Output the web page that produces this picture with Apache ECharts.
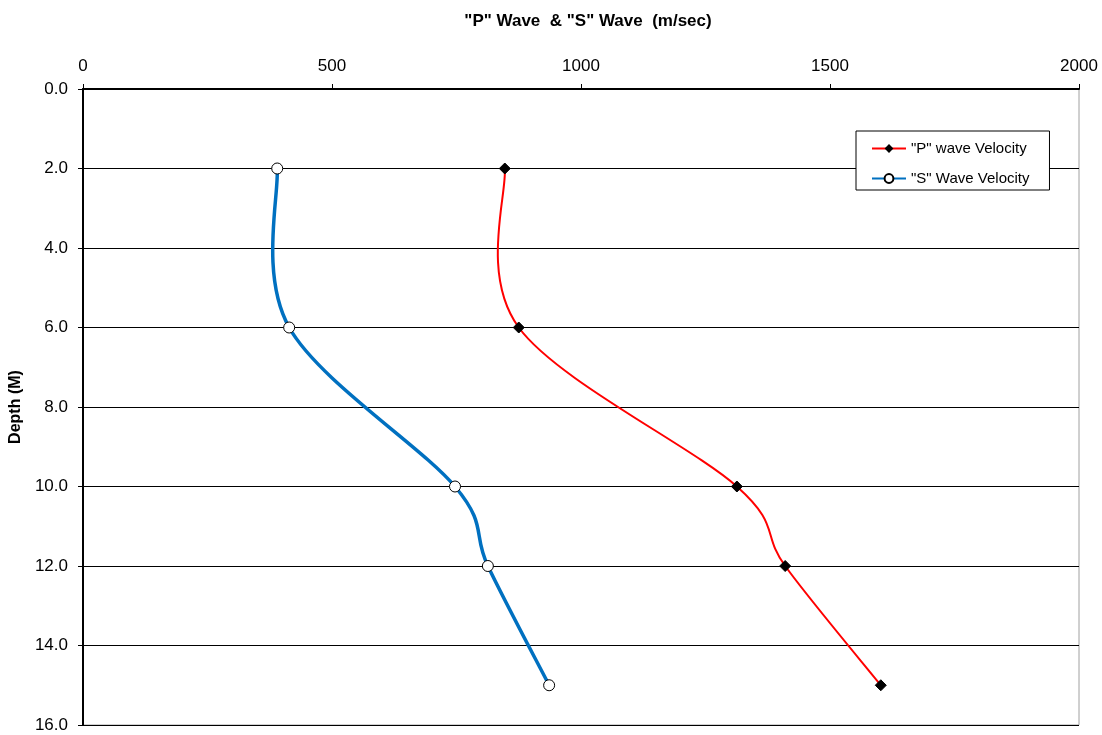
<!DOCTYPE html>
<html><head><meta charset="utf-8">
<script src="https://cdn.jsdelivr.net/npm/echarts@6/dist/echarts.min.js"></script>
<style>html,body{margin:0;padding:0;background:#fff}#c{width:1102px;height:735px}</style>
</head><body><div id="c"></div>
<script>
const depths = [2, 6, 10, 12, 15];
const pVelocity = [847, 875, 1313, 1410, 1602];
const sVelocity = [390, 414, 747, 813, 936];
const depthTicks = [0, 2, 4, 6, 8, 10, 12, 14, 16];
const velocityTicks = [0, 500, 1000, 1500, 2000];
const titleText = '"P" Wave  & "S" Wave  (m/sec)';
const yName = 'Depth (M)';
const seriesNames = ['"P" wave Velocity', '"S" Wave Velocity'];
const pColor = '#ff0000';
const sColor = '#0070c0';

const font = 'Liberation Sans, Arial, sans-serif';

// Smoothed curve (Catmull-Rom style, like spreadsheet smoothing) drawn through library coordinates
function curveRenderer(xs, color, width) {
  return function (params, api) {
    if (params.dataIndex !== 0) return null;
    const p = depths.map((d, i) => api.coord([xs[i], d]));
    const n = p.length;
    let path = 'M' + p[0][0] + ' ' + p[0][1];
    for (let i = 0; i < n - 1; i++) {
      const p0 = p[Math.max(i - 1, 0)], p1 = p[i], p2 = p[i + 1], p3 = p[Math.min(i + 2, n - 1)];
      const c1 = [p1[0] + (p2[0] - p0[0]) / 6, p1[1] + (p2[1] - p0[1]) / 6];
      const c2 = [p2[0] - (p3[0] - p1[0]) / 6, p2[1] - (p3[1] - p1[1]) / 6];
      path += ' C' + c1[0] + ' ' + c1[1] + ' ' + c2[0] + ' ' + c2[1] + ' ' + p2[0] + ' ' + p2[1];
    }
    return {type: 'path', shape: {pathData: path}, style: {stroke: color, lineWidth: width, fill: null}, z2: 1};
  };
}

const chart = echarts.init(document.getElementById('c'));
chart.setOption({
  animation: false,
  textStyle: {fontFamily: font},
  title: {text: titleText, left: 583, textAlign: 'center', top: 8,
    textStyle: {fontFamily: font, fontSize: 17, fontWeight: 'bold', color: '#000'}},
  grid: {left: 83, right: 23, top: 89, bottom: 10, show: true, borderColor: '#a0a0a0', borderWidth: 1, backgroundColor: '#fff'},
  legend: {
    orient: 'vertical', left: 856, top: 131, padding: [10, 20, 4, 15],
    borderColor: '#000', borderWidth: 1, backgroundColor: '#fff',
    itemWidth: 34, itemHeight: 11, itemGap: 15,
    textStyle: {fontFamily: font, fontSize: 15, color: '#000'},
    data: [
      {name: seriesNames[0], lineStyle: {color: pColor, width: 2, opacity: 1}},
      {name: seriesNames[1], lineStyle: {color: sColor, width: 2, opacity: 1}}
    ]
  },
  xAxis: {
    type: 'value', position: 'top', min: velocityTicks[0], max: velocityTicks[velocityTicks.length-1], interval: 500,
    axisLine: {show: true, onZero: false, lineStyle: {color: '#000', width: 2}},
    axisTick: {show: true, length: 5, lineStyle: {color: '#000'}},
    axisLabel: {color: '#000', fontSize: 17, margin: 14, fontFamily: font, formatter: v => String(v)},
    splitLine: {show: false}
  },
  yAxis: {
    type: 'value', inverse: true, min: depthTicks[0], max: depthTicks[depthTicks.length-1], interval: 2,
    name: yName, nameLocation: 'middle', nameGap: 53, nameRotate: 90,
    nameTextStyle: {fontFamily: font, fontSize: 16, fontWeight: 'bold', color: '#000'},
    axisLine: {show: true, onZero: false, lineStyle: {color: '#000', width: 2}},
    axisTick: {show: true, length: 5, lineStyle: {color: '#000'}},
    axisLabel: {color: '#000', fontSize: 17, margin: 15, fontFamily: font, formatter: v => v.toFixed(1)},
    splitLine: {show: true, lineStyle: {color: '#000', width: 1}}
  },
  series: [
    {name: 'pCurve', type: 'custom', renderItem: curveRenderer(pVelocity, pColor, 2),
     data: depths.map((d, i) => [pVelocity[i], d]), encode: {x: 0, y: 1}, z: 2, silent: true},
    {name: 'sCurve', type: 'custom', renderItem: curveRenderer(sVelocity, sColor, 3.5),
     data: depths.map((d, i) => [sVelocity[i], d]), encode: {x: 0, y: 1}, z: 2, silent: true},
    {name: seriesNames[0], type: 'line',
     data: depths.map((d, i) => [pVelocity[i], d]),
     lineStyle: {color: pColor, width: 2, opacity: 0}, itemStyle: {color: '#000', borderColor: '#000'},
     symbol: 'diamond', symbolSize: 11, z: 3},
    {name: seriesNames[1], type: 'line',
     data: depths.map((d, i) => [sVelocity[i], d]),
     lineStyle: {color: sColor, width: 2, opacity: 0}, itemStyle: {color: '#fff', borderColor: '#000', borderWidth: 1},
     symbol: 'circle', symbolSize: 11, z: 3}
  ]
});
</script></body></html>
